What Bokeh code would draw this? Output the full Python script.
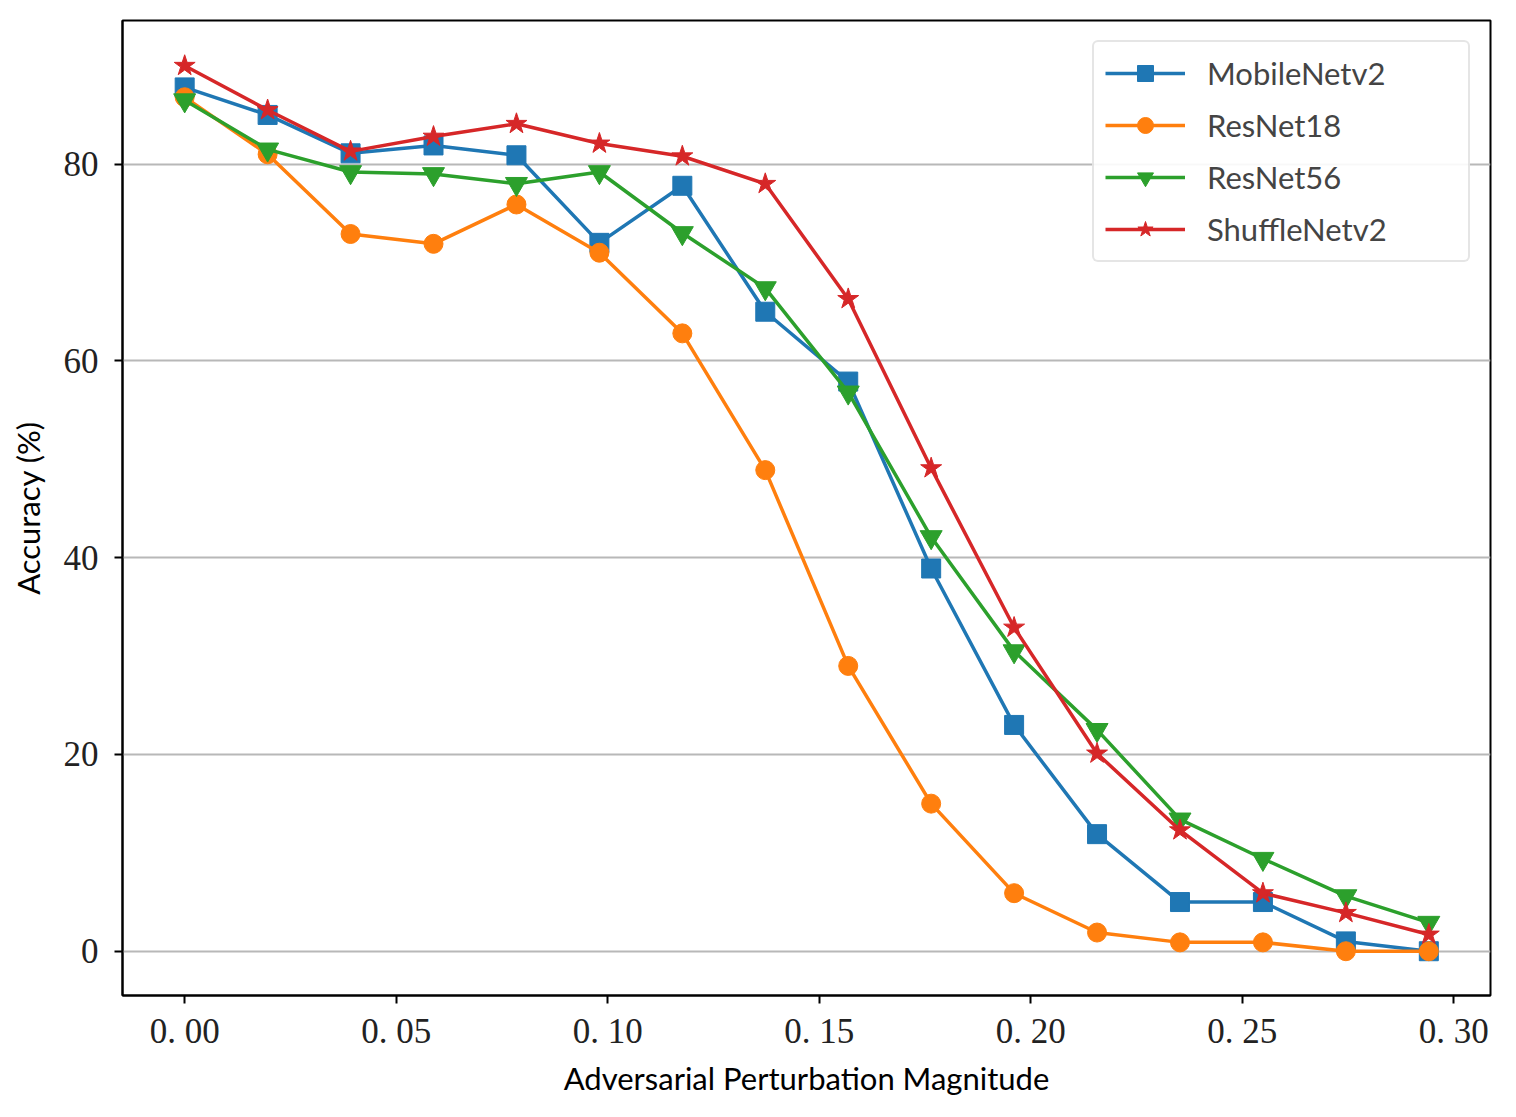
from bokeh.plotting import figure
from bokeh.models import FixedTicker, Range1d, Legend, LegendItem
from bokeh.embed import file_html
from bokeh.resources import INLINE

x_vals = [i * 5 / 255 for i in range(16)]
mobilenet = [87.8, 85.0, 81.1, 81.9, 80.9, 72.0, 77.8, 65.0, 57.9, 38.9, 23.0, 11.9, 5.0, 5.0, 1.0, 0.0]
resnet18 = [86.8, 81.0, 72.9, 71.9, 75.9, 71.0, 62.8, 48.9, 29.0, 15.0, 5.9, 1.9, 0.9, 0.9, 0.0, 0.0]
resnet56 = [86.5, 81.5, 79.2, 79.0, 78.0, 79.2, 73.0, 67.4, 56.8, 42.1, 30.5, 22.5, 13.4, 9.4, 5.6, 2.9]
shufflenet = [90.0, 85.5, 81.3, 82.8, 84.1, 82.1, 80.8, 78.0, 66.3, 49.1, 32.9, 20.1, 12.3, 5.9, 3.9, 1.7]

series_names = ["MobileNetv2", "ResNet18", "ResNet56", "ShuffleNetv2"]
series_data = [mobilenet, resnet18, resnet56, shufflenet]
colors = ["#1f77b4", "#ff7f0e", "#2ca02c", "#d62728"]
markers = ["square", "circle", "inverted_triangle", "star"]
marker_sizes = [19, 19, 22, 22]

x_ticks = [0.0, 0.05, 0.10, 0.15, 0.20, 0.25, 0.30]
x_tick_labels = ["0. 00", "0. 05", "0. 10", "0. 15", "0. 20", "0. 25", "0. 30"]
y_ticks = [0, 20, 40, 60, 80]

W, H = 1508, 1105
p = figure(width=W, height=H, output_backend="svg", toolbar_location=None,
           x_range=Range1d(-0.0147, 0.3087), y_range=Range1d(-4.5, 94.6),
           min_border_left=122, min_border_right=18, min_border_top=20, min_border_bottom=110)

p.outline_line_color = "black"
p.outline_line_width = 2
p.background_fill_color = "white"
p.xgrid.grid_line_color = None
p.ygrid.grid_line_color = "#b8b8b8"
p.ygrid.grid_line_width = 2

p.xaxis.ticker = FixedTicker(ticks=x_ticks)
p.xaxis.major_label_overrides = {t: l for t, l in zip(x_ticks, x_tick_labels)}
p.yaxis.ticker = FixedTicker(ticks=y_ticks)

for ax in (p.xaxis[0], p.yaxis[0]):
    ax.axis_line_color = "black"
    ax.axis_line_width = 2
    ax.major_tick_line_color = "black"
    ax.major_tick_line_width = 2
    ax.major_tick_out = 8
    ax.major_tick_in = 0
    ax.minor_tick_line_color = None
    ax.major_label_text_font = "Liberation Serif"
    ax.major_label_text_font_size = "35px"
    ax.major_label_text_color = "#222222"
    ax.axis_label_text_font = "Lato"
    ax.axis_label_text_font_style = "normal"
    ax.axis_label_text_font_size = "31px"
    ax.axis_label_text_color = "black"

p.xaxis.axis_label = "Adversarial Perturbation Magnitude"
p.yaxis.axis_label = "Accuracy (%)"
p.xaxis.major_label_standoff = 8
p.yaxis.major_label_standoff = 16
p.xaxis.axis_label_standoff = 5
p.yaxis.axis_label_standoff = 14

items = []
for name, data, c, m, s in zip(series_names, series_data, colors, markers, marker_sizes):
    r1 = p.line(x_vals, data, line_color=c, line_width=3.5)
    r2 = p.scatter(x_vals, data, marker=m, size=s, fill_color=c, line_color=c)
    items.append(LegendItem(label=name, renderers=[r1, r2]))

legend = Legend(items=items, location="top_right")
legend.margin = 20
legend.padding = 11
legend.spacing = 12
legend.glyph_width = 80
legend.glyph_height = 40
legend.label_width = 250
legend.label_text_font = "Lato"
legend.label_text_font_size = "31px"
legend.label_standoff = 22
legend.border_line_color = "#cccccc"
legend.border_line_width = 2
legend.border_radius = 6
legend.background_fill_alpha = 0.9
p.add_layout(legend, "center")

open("out.html", "w").write(file_html(p, INLINE))
